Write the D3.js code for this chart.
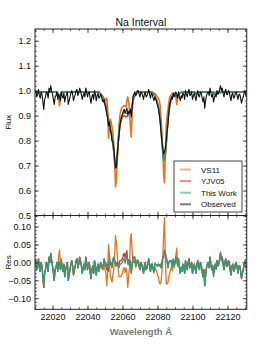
<!DOCTYPE html>
<html>
<head>
<meta charset="utf-8">
<script src="https://cdn.jsdelivr.net/npm/d3@7"></script>
<style>
  body { margin: 0; background: #fff; }
  svg { display: block; font-family: "Liberation Sans", Arial, sans-serif; }
</style>
</head>
<body>
<script>
// wavelength grid: 0.5 A steps from 22010 to 22131
const waveStart = 22010, waveStep = 0.5, nPix = 243;
const wave = d3.range(nPix).map(i => waveStart + i * waveStep);

// each row = 5 A (10 pixels)
const observed = [
  0.99, 1.0, 0.975, 0.985, 1.005, 0.98, 0.97, 0.995, 0.985, 0.955,
  0.925, 0.965, 0.975, 0.995, 0.99, 0.97, 1.01, 0.995, 1.02, 1.0,
  0.985, 0.965, 0.945, 0.975, 0.98, 0.995, 0.965, 0.985, 0.975, 0.96,
  0.995, 0.98, 0.97, 0.99, 0.955, 0.975, 0.985, 0.995, 0.945, 0.96,
  0.975, 0.99, 1.0, 0.985, 0.96, 0.975, 0.985, 1.0, 1.005, 0.98,
  0.99, 1.01, 1.0, 0.985, 0.965, 0.98, 0.99, 0.975, 1.01, 0.995,
  0.975, 0.99, 0.995, 0.97, 0.95, 0.975, 0.985, 0.965, 1.0, 0.985,
  0.96, 0.98, 0.99, 0.97, 0.975, 0.985, 0.975, 0.96, 0.955, 0.965,
  0.945, 0.93, 0.905, 0.89, 0.86, 0.875, 0.845, 0.83, 0.80, 0.795,
  0.77, 0.73, 0.69, 0.695, 0.74, 0.785, 0.82, 0.86, 0.88, 0.895,
  0.905, 0.92, 0.925, 0.91, 0.92, 0.93, 0.905, 0.915, 0.91, 0.925,
  0.895, 0.93, 0.975, 0.985, 0.995, 0.98, 0.985, 1.0, 1.0, 0.985,
  0.975, 0.995, 0.99, 0.98, 0.965, 0.985, 0.995, 0.975, 0.98, 0.99,
  1.005, 0.985, 0.97, 0.99, 0.985, 0.97, 0.96, 0.975, 0.965, 0.955,
  0.94, 0.93, 0.905, 0.88, 0.835, 0.80, 0.77, 0.745, 0.755, 0.77,
  0.80, 0.84, 0.87, 0.915, 0.945, 0.96, 0.975, 0.965, 0.99, 0.975,
  0.985, 0.995, 0.985, 0.97, 0.995, 0.975, 0.96, 0.98, 0.97, 0.99,
  0.985, 0.965, 1.0, 0.985, 0.975, 0.995, 1.005, 0.98, 0.985, 0.995,
  0.965, 0.98, 0.99, 0.975, 0.96, 0.985, 1.0, 0.98, 0.975, 0.995,
  0.99, 0.97, 0.955, 0.975, 0.93, 0.96, 0.98, 0.99, 0.995, 0.98,
  1.01, 0.99, 0.975, 0.985, 0.955, 0.97, 0.985, 0.975, 1.0, 0.985,
  0.99, 1.005, 1.02, 1.0, 1.01, 0.99, 0.975, 0.995, 1.005, 0.985,
  0.985, 1.0, 0.995, 0.975, 0.96, 0.985, 0.99, 0.97, 0.975, 0.99,
  0.995, 0.98, 0.965, 0.985, 0.985, 0.97, 0.95, 0.965, 0.975, 0.99,
  1.0, 0.98, 0.985
];

const thisWork = [
  0.995, 0.995, 0.995, 0.995, 0.995, 0.995, 0.995, 0.995, 0.995, 0.995,
  0.995, 0.995, 0.995, 0.995, 0.995, 0.995, 0.995, 0.995, 0.995, 0.995,
  0.995, 0.995, 0.995, 0.995, 0.995, 0.995, 0.99, 0.985, 0.975, 0.98,
  0.99, 0.995, 0.995, 0.995, 0.995, 0.995, 0.995, 0.995, 0.995, 0.995,
  0.995, 0.995, 0.995, 0.995, 0.995, 0.995, 0.995, 0.995, 0.995, 0.995,
  0.995, 0.995, 0.995, 0.995, 0.995, 0.995, 0.995, 0.995, 0.995, 0.995,
  0.995, 0.995, 0.995, 0.995, 0.995, 0.995, 0.995, 0.995, 0.995, 0.995,
  0.995, 0.995, 0.995, 0.995, 0.99, 0.985, 0.98, 0.975, 0.965, 0.955,
  0.945, 0.93, 0.915, 0.895, 0.875, 0.86, 0.845, 0.83, 0.81, 0.785,
  0.755, 0.72, 0.70, 0.705, 0.745, 0.795, 0.835, 0.865, 0.885, 0.897,
  0.905, 0.91, 0.915, 0.912, 0.91, 0.908, 0.91, 0.915, 0.92, 0.922,
  0.925, 0.94, 0.96, 0.972, 0.98, 0.986, 0.99, 0.993, 0.995, 0.995,
  0.995, 0.995, 0.995, 0.995, 0.995, 0.995, 0.995, 0.995, 0.995, 0.995,
  0.995, 0.995, 0.995, 0.995, 0.99, 0.988, 0.985, 0.978, 0.97, 0.962,
  0.95, 0.935, 0.915, 0.885, 0.85, 0.80, 0.755, 0.725, 0.72, 0.745,
  0.79, 0.84, 0.885, 0.915, 0.94, 0.957, 0.97, 0.976, 0.98, 0.983,
  0.985, 0.98, 0.975, 0.98, 0.985, 0.988, 0.99, 0.993, 0.995, 0.995,
  0.995, 0.995, 0.995, 0.995, 0.995, 0.995, 0.995, 0.995, 0.995, 0.995,
  0.995, 0.995, 0.995, 0.993, 0.99, 0.993, 0.995, 0.995, 0.995, 0.995,
  0.995, 0.995, 0.995, 0.995, 0.995, 0.995, 0.995, 0.995, 0.995, 0.995,
  0.995, 0.995, 0.995, 0.995, 0.995, 0.993, 0.99, 0.993, 0.995, 0.995,
  0.995, 0.995, 0.995, 0.995, 0.995, 0.995, 0.995, 0.995, 0.995, 0.995,
  0.995, 0.995, 0.995, 0.995, 0.995, 0.995, 0.995, 0.995, 0.995, 0.995,
  0.995, 0.995, 0.995, 0.995, 0.995, 0.995, 0.995, 0.995, 0.995, 0.995,
  0.995, 0.995, 0.995
];

const yjv05 = [
  0.995, 0.995, 0.995, 0.995, 0.995, 0.995, 0.995, 0.995, 0.995, 0.995,
  0.995, 0.995, 0.995, 0.995, 0.995, 0.995, 0.995, 0.995, 0.995, 0.995,
  0.995, 0.995, 0.995, 0.995, 0.995, 0.995, 0.99, 0.985, 0.975, 0.98,
  0.99, 0.995, 0.995, 0.995, 0.995, 0.995, 0.995, 0.995, 0.995, 0.995,
  0.995, 0.995, 0.995, 0.995, 0.995, 0.995, 0.995, 0.995, 0.995, 0.995,
  0.995, 0.995, 0.995, 0.995, 0.995, 0.995, 0.995, 0.995, 0.995, 0.995,
  0.995, 0.995, 0.995, 0.995, 0.995, 0.995, 0.995, 0.995, 0.995, 0.995,
  0.995, 0.995, 0.995, 0.995, 0.99, 0.985, 0.98, 0.975, 0.965, 0.955,
  0.95, 0.94, 0.925, 0.905, 0.885, 0.868, 0.85, 0.835, 0.815, 0.79,
  0.76, 0.725, 0.695, 0.70, 0.74, 0.79, 0.825, 0.855, 0.875, 0.887,
  0.895, 0.898, 0.90, 0.898, 0.895, 0.897, 0.90, 0.908, 0.915, 0.92,
  0.925, 0.94, 0.96, 0.972, 0.98, 0.986, 0.99, 0.993, 0.995, 0.995,
  0.995, 0.995, 0.995, 0.995, 0.995, 0.995, 0.995, 0.995, 0.995, 0.995,
  0.995, 0.995, 0.995, 0.995, 0.99, 0.988, 0.985, 0.978, 0.97, 0.962,
  0.95, 0.935, 0.915, 0.885, 0.85, 0.805, 0.76, 0.73, 0.725, 0.745,
  0.785, 0.835, 0.885, 0.915, 0.94, 0.957, 0.97, 0.976, 0.98, 0.983,
  0.985, 0.98, 0.975, 0.98, 0.985, 0.988, 0.99, 0.993, 0.995, 0.995,
  0.995, 0.995, 0.995, 0.995, 0.995, 0.995, 0.995, 0.995, 0.995, 0.995,
  0.995, 0.995, 0.995, 0.993, 0.99, 0.993, 0.995, 0.995, 0.995, 0.995,
  0.995, 0.995, 0.995, 0.995, 0.995, 0.995, 0.995, 0.995, 0.995, 0.995,
  0.995, 0.995, 0.995, 0.993, 0.985, 0.99, 0.99, 0.993, 0.995, 0.995,
  0.995, 0.995, 0.995, 0.995, 0.995, 0.995, 0.995, 0.995, 0.995, 0.995,
  0.995, 0.995, 0.995, 0.995, 0.995, 0.995, 0.995, 0.995, 0.995, 0.995,
  0.995, 0.995, 0.995, 0.995, 0.995, 0.995, 0.995, 0.995, 0.995, 0.995,
  0.995, 0.995, 0.995
];

const vs11 = [
  0.995, 0.995, 0.995, 0.995, 0.995, 0.995, 0.995, 0.995, 0.995, 0.995,
  0.995, 0.995, 0.995, 0.995, 0.995, 0.995, 0.995, 0.995, 0.995, 0.995,
  0.995, 0.995, 0.995, 0.995, 0.995, 0.995, 0.985, 0.97, 0.94, 0.96,
  0.985, 0.993, 0.995, 0.995, 0.995, 0.995, 0.995, 0.995, 0.995, 0.995,
  0.995, 0.995, 0.995, 0.995, 0.995, 0.995, 0.995, 0.995, 0.995, 0.995,
  0.995, 0.995, 0.995, 0.995, 0.995, 0.995, 0.995, 0.995, 0.995, 0.995,
  0.995, 0.995, 0.995, 0.995, 0.995, 0.995, 0.995, 0.995, 0.995, 0.995,
  0.995, 0.995, 0.995, 0.995, 0.99, 0.988, 0.985, 0.98, 0.975, 0.97,
  0.965, 0.96, 0.97, 0.92, 0.81, 0.85, 0.885, 0.875, 0.855, 0.83,
  0.79, 0.71, 0.615, 0.64, 0.72, 0.80, 0.86, 0.90, 0.92, 0.93,
  0.935, 0.938, 0.94, 0.938, 0.935, 0.96, 0.975, 0.955, 0.92, 0.86,
  0.815, 0.90, 0.975, 0.985, 0.99, 0.993, 0.995, 0.995, 0.995, 0.995,
  0.995, 0.995, 0.995, 0.995, 0.995, 0.995, 0.995, 0.995, 0.995, 0.995,
  0.995, 0.995, 0.995, 0.995, 0.995, 0.993, 0.99, 0.988, 0.985, 0.98,
  0.975, 0.97, 0.96, 0.94, 0.89, 0.83, 0.76, 0.67, 0.63, 0.76,
  0.86, 0.90, 0.925, 0.955, 0.975, 0.98, 0.985, 0.988, 0.99, 0.99,
  0.99, 0.975, 0.945, 0.97, 0.985, 0.99, 0.99, 0.993, 0.995, 0.995,
  0.995, 0.995, 0.995, 0.995, 0.995, 0.995, 0.995, 0.995, 0.995, 0.995,
  0.995, 0.995, 0.995, 0.99, 0.985, 0.99, 0.995, 0.995, 0.995, 0.995,
  0.995, 0.995, 0.995, 0.995, 0.995, 0.995, 0.995, 0.995, 0.995, 0.995,
  0.995, 0.995, 0.995, 0.993, 0.99, 0.993, 0.99, 0.993, 0.995, 0.995,
  0.995, 0.995, 0.99, 0.993, 0.995, 0.995, 0.995, 0.995, 0.995, 0.995,
  0.995, 0.995, 0.995, 0.995, 0.995, 0.995, 0.995, 0.995, 0.995, 0.995,
  0.995, 0.995, 0.995, 0.995, 0.995, 0.995, 0.995, 0.995, 0.995, 0.995,
  0.995, 0.995, 0.995
];

const seriesNames = ['VS11', 'YJV05', 'This Work', 'Observed'];
const seriesColors = ['#e8731c', '#ee2a24', '#26a07c', '#111111'];
const fluxTicks = [0.5, 0.6, 0.7, 0.8, 0.9, 1.0, 1.1, 1.2];
const resTicks = [-0.10, -0.05, 0.00, 0.05, 0.10];
const waveTicks = [22020, 22040, 22060, 22080, 22100, 22120];

let width = 274, height = 355;
let box = { left: 35, right: 246.75, top: 29, mid: 215.5, bottom: 309.3 };

let svg = d3.select('body').append('svg')
    .attr('width', width)
    .attr('height', height);

let x = d3.scaleLinear().domain([22010, 22131]).range([box.left, box.right]);
let yFlux = d3.scaleLinear().domain([0.5, 1.247]).range([box.mid, box.top]);
let yRes = d3.scaleLinear().domain([-0.131, 0.131]).range([box.bottom, box.mid]);

// residual = observed - model
let models = [vs11, yjv05, thisWork];
let residuals = models.map(m => observed.map((o, i) => o - m[i]));

// clip paths
let defs = svg.append('defs');
defs.append('clipPath').attr('id', 'clipTop').append('rect')
    .attr('x', box.left).attr('y', box.top)
    .attr('width', box.right - box.left).attr('height', box.mid - box.top);
defs.append('clipPath').attr('id', 'clipBot').append('rect')
    .attr('x', box.left).attr('y', box.mid)
    .attr('width', box.right - box.left).attr('height', box.bottom - box.mid);

// spectra
let fluxLine = d3.line().x((d, i) => x(wave[i])).y(d => yFlux(d));
let topG = svg.append('g').attr('clip-path', 'url(#clipTop)');
[vs11, yjv05, thisWork, observed].forEach((s, k) => {
    topG.append('path')
        .datum(s)
        .attr('d', fluxLine)
        .attr('fill', 'none')
        .attr('stroke', seriesColors[k])
        .attr('stroke-width', k == 3 ? 1.1 : 1.6)
        .attr('stroke-linejoin', 'round');
});

// residuals
let resLine = d3.line().x((d, i) => x(wave[i])).y(d => yRes(d));
let botG = svg.append('g').attr('clip-path', 'url(#clipBot)');
botG.append('line')
    .attr('x1', box.left).attr('x2', box.right)
    .attr('y1', yRes(0)).attr('y2', yRes(0))
    .attr('stroke', '#999').attr('stroke-width', 0.8)
    .attr('stroke-dasharray', '1,2');
residuals.forEach((r, k) => {
    botG.append('path')
        .datum(r)
        .attr('d', resLine)
        .attr('fill', 'none')
        .attr('stroke', seriesColors[k])
        .attr('stroke-width', 1.3)
        .attr('stroke-linejoin', 'round');
});

// axes: major + minor ticks pointing inward
let styleAxis = g => {
    g.select('.domain').remove();
    g.selectAll('.tick line').attr('stroke', '#222').attr('stroke-width', 0.7);
    g.selectAll('.tick text')
        .attr('fill', '#111')
        .style('font-size', '9px')
        .style('font-family', '"Liberation Sans", Arial, sans-serif');
};

let minorFlux = d3.range(50, 125, 2).map(v => v / 100);
let minorRes = d3.range(-13, 14, 1).map(v => v / 100);
let minorWave = d3.range(22010, 22132, 5);

let addAxis = (axis, tx, ty) => svg.append('g')
    .attr('transform', `translate(${tx},${ty})`)
    .call(axis)
    .call(styleAxis);

// top panel
addAxis(d3.axisLeft(yFlux).tickValues(fluxTicks).tickSize(-4).tickPadding(4).tickFormat(d3.format('.1f')), box.left, 0);
addAxis(d3.axisLeft(yFlux).tickValues(minorFlux).tickSize(-2).tickFormat(''), box.left, 0);
addAxis(d3.axisRight(yFlux).tickValues(fluxTicks).tickSize(-4).tickFormat(''), box.right, 0);
addAxis(d3.axisRight(yFlux).tickValues(minorFlux).tickSize(-2).tickFormat(''), box.right, 0);
addAxis(d3.axisTop(x).tickValues(waveTicks).tickSize(-4).tickFormat(''), 0, box.top);
addAxis(d3.axisTop(x).tickValues(minorWave).tickSize(-2).tickFormat(''), 0, box.top);
addAxis(d3.axisBottom(x).tickValues(waveTicks).tickSize(-4).tickFormat(''), 0, box.mid);
addAxis(d3.axisBottom(x).tickValues(minorWave).tickSize(-2).tickFormat(''), 0, box.mid);

// bottom panel
let resFormat = d => d3.format('.2f')(d).replace('-', '\u2212');
addAxis(d3.axisLeft(yRes).tickValues(resTicks).tickSize(-4).tickPadding(4).tickFormat(resFormat), box.left, 0);
addAxis(d3.axisLeft(yRes).tickValues(minorRes).tickSize(-2).tickFormat(''), box.left, 0);
addAxis(d3.axisRight(yRes).tickValues(resTicks).tickSize(-4).tickFormat(''), box.right, 0);
addAxis(d3.axisRight(yRes).tickValues(minorRes).tickSize(-2).tickFormat(''), box.right, 0);
addAxis(d3.axisTop(x).tickValues(waveTicks).tickSize(-4).tickFormat(''), 0, box.mid);
addAxis(d3.axisTop(x).tickValues(minorWave).tickSize(-2).tickFormat(''), 0, box.mid);
addAxis(d3.axisBottom(x).tickValues(waveTicks).tickSize(-4).tickPadding(4).tickFormat(d3.format('d')), 0, box.bottom);
addAxis(d3.axisBottom(x).tickValues(minorWave).tickSize(-2).tickFormat(''), 0, box.bottom);

// frames
[[box.top, box.mid], [box.mid, box.bottom]].forEach(([y0, y1]) => {
    svg.append('rect')
        .attr('x', box.left).attr('y', y0)
        .attr('width', box.right - box.left).attr('height', y1 - y0)
        .attr('fill', 'none').attr('stroke', '#222').attr('stroke-width', 1);
});

// labels
let cx = (box.left + box.right) / 2;
svg.append('text')
    .attr('x', cx).attr('y', 26)
    .attr('text-anchor', 'middle')
    .style('font-size', '10.5px')
    .attr('fill', '#111')
    .text('Na Interval');
svg.append('text')
    .attr('transform', `translate(11,${(box.top + box.mid) / 2}) rotate(-90)`)
    .attr('text-anchor', 'middle')
    .style('font-size', '8px')
    .attr('fill', '#111')
    .text('Flux');
svg.append('text')
    .attr('transform', `translate(11,${(box.mid + box.bottom) / 2}) rotate(-90)`)
    .attr('text-anchor', 'middle')
    .style('font-size', '8px')
    .attr('fill', '#111')
    .text('Res');
svg.append('text')
    .attr('x', cx).attr('y', 335)
    .attr('text-anchor', 'middle')
    .style('font-size', '9.5px')
    .style('font-weight', 'bold')
    .attr('fill', '#7a7a7a')
    .text('Wavelength \u00c5');

// legend
let legend = svg.append('g').attr('transform', 'translate(174,161)');
legend.append('rect')
    .attr('width', 68).attr('height', 51)
    .attr('fill', '#fff').attr('stroke', '#444').attr('stroke-width', 1);
seriesNames.forEach((name, k) => {
    let ly = 8.5 + k * 11.6;
    legend.append('line')
        .attr('x1', 6).attr('x2', 17)
        .attr('y1', ly).attr('y2', ly)
        .attr('stroke', seriesColors[k])
        .attr('stroke-opacity', 0.55)
        .attr('stroke-width', 2);
    legend.append('text')
        .attr('x', 27).attr('y', ly + 3)
        .style('font-size', '8px')
        .attr('fill', '#111')
        .text(name);
});
</script>
</body>
</html>
